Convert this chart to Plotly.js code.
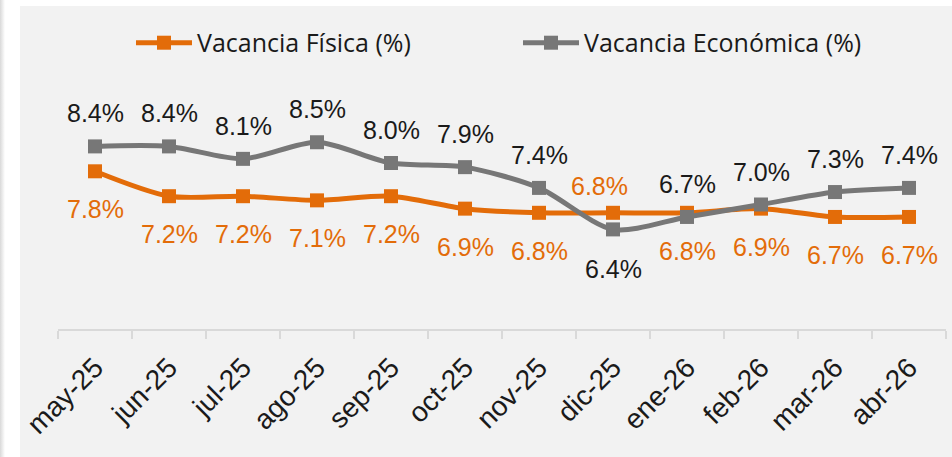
<!DOCTYPE html>
<html>
<head>
<meta charset="utf-8">
<script src="https://cdn.plot.ly/plotly-3.0.1.min.js"></script>
<style>
  html, body { margin: 0; padding: 0; background: #ffffff; width: 952px; height: 457px; overflow: hidden; }
  #strip { position: absolute; left: 0; top: 0; width: 5px; height: 457px; background: linear-gradient(to right, #d9d9d9, #ffffff); }
  #panel { position: absolute; left: 20px; top: 6px; width: 932px; height: 451px; background: #F2F2F2; }
  #chart { position: absolute; left: 0; top: 0; width: 952px; height: 457px; }
</style>
</head>
<body>
<div id="strip"></div>
<div id="panel"></div>
<div id="chart"></div>
<script>
// ---- data ----
const categories = ['may-25','jun-25','jul-25','ago-25','sep-25','oct-25','nov-25','dic-25','ene-26','feb-26','mar-26','abr-26'];
const vacanciaFisica = [7.8, 7.2, 7.2, 7.1, 7.2, 6.9, 6.8, 6.8, 6.8, 6.9, 6.7, 6.7];
const vacanciaEconomica = [8.4, 8.4, 8.1, 8.5, 8.0, 7.9, 7.4, 6.4, 6.7, 7.0, 7.3, 7.4];
const seriesNames = ['Vacancia Física (%)', 'Vacancia Económica (%)'];

// ---- style ----
const ORANGE = '#E36C09';
const GREY = '#777777';
const labelFont = 'Liberation Sans, Arial, sans-serif';
// label placement per point (style only)
const fisicaPlace = ['below','below','below','below','below','below','below','above','below','below','below','below'];
const economicaPlace = ['above','above','above','above','above','above','above','below','above','above','above','above'];

function fmt(v) { return v.toFixed(1) + '%'; }

const traces = [
  {
    x: categories, y: vacanciaFisica, name: seriesNames[0], type: 'scatter', mode: 'lines+markers',
    line: { color: ORANGE, width: 5, shape: 'spline', smoothing: 0.8 },
    marker: { symbol: 'square', size: 14, color: ORANGE },
    hoverinfo: 'skip'
  },
  {
    x: categories, y: vacanciaEconomica, name: seriesNames[1], type: 'scatter', mode: 'lines+markers',
    line: { color: GREY, width: 5, shape: 'spline', smoothing: 0.8 },
    marker: { symbol: 'square', size: 14, color: GREY },
    hoverinfo: 'skip'
  }
];

const annotations = [];
categories.forEach((c, i) => {
  annotations.push({
    x: c, y: vacanciaEconomica[i], text: fmt(vacanciaEconomica[i]), showarrow: false,
    xanchor: 'center', yanchor: 'middle',
    yshift: economicaPlace[i] === 'above' ? 33 : -40,
    font: { family: labelFont, size: 25, color: '#1a1a1a' }
  });
  annotations.push({
    x: c, y: vacanciaFisica[i], text: fmt(vacanciaFisica[i]), showarrow: false,
    xanchor: 'center', yanchor: 'middle',
    yshift: fisicaPlace[i] === 'above' ? 27 : -38,
    xshift: fisicaPlace[i] === 'above' ? -14 : 0,
    font: { family: labelFont, size: 25, color: ORANGE }
  });
});

const layout = {
  width: 952, height: 457,
  margin: { l: 58, r: 6, t: 80, b: 128 },
  paper_bgcolor: 'rgba(0,0,0,0)',
  plot_bgcolor: 'rgba(0,0,0,0)',
  showlegend: true,
  legend: {
    orientation: 'h', x: 0.1376, xanchor: 'left', xref: 'container',
    y: 0.906, yanchor: 'middle', yref: 'container',
    font: { family: 'Open Sans, sans-serif', size: 25, color: '#1a1a1a' },
    itemwidth: 56, entrywidth: 316, traceorder: 'normal',
    bgcolor: 'rgba(0,0,0,0)'
  },
  xaxis: {
    type: 'category', range: [-0.5, 11.5], fixedrange: true,
    showgrid: false, zeroline: false,
    showline: true, linecolor: '#D9D9D9', linewidth: 2,
    ticks: 'outside', tickson: 'boundaries', ticklen: 8, tickcolor: '#D9D9D9', tickwidth: 2,
    tickangle: -45, ticklabelstandoff: 9,
    tickfont: { family: labelFont, size: 28, color: '#1a1a1a' }
  },
  yaxis: {
    range: [4, 10], visible: false, fixedrange: true, showgrid: false, zeroline: false
  },
  annotations: annotations
};

Plotly.newPlot('chart', traces, layout, { staticPlot: true, displayModeBar: false }).then(function (gd) {
  // lengthen the legend line symbols to match the reference
  gd.querySelectorAll('.legendlines path').forEach(function (p) { p.setAttribute('d', 'M5,0h56'); });
});
</script>
</body>
</html>
